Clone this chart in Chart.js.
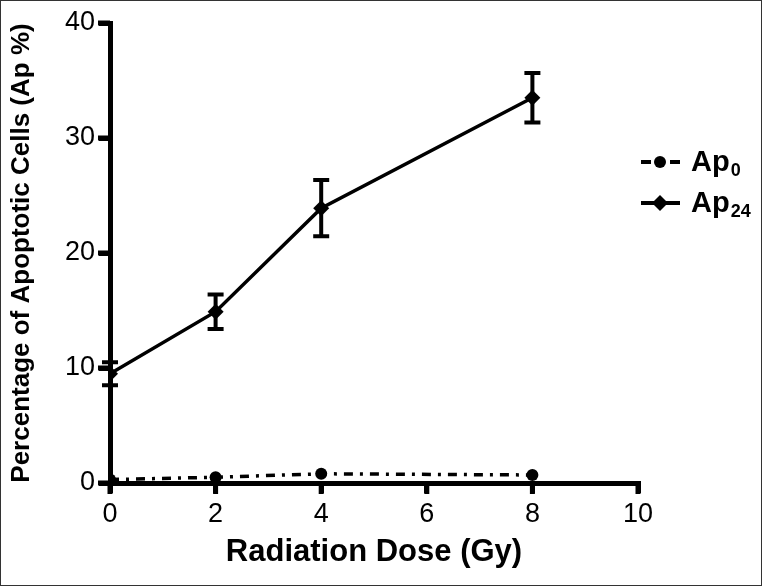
<!DOCTYPE html>
<html>
<head>
<meta charset="utf-8">
<title>Apoptosis vs radiation dose</title>
<script src="https://cdn.jsdelivr.net/npm/chart.js@4.4.1/dist/chart.umd.min.js"></script>
<style>
  html, body { margin: 0; padding: 0; background: #fff; }
  canvas { display: block; }
</style>
</head>
<body>
<canvas id="apChart" width="762" height="586"></canvas>
<script>
// Data
const doses = [0, 2, 4, 8];
const ap0 = [0.3, 0.5, 0.8, 0.7];
const ap24 = [9.5, 14.9, 23.9, 33.5];
const ap24Err = [1.0, 1.5, 2.45, 2.15];
const xTicks = [0, 2, 4, 6, 8, 10];
const yTicks = [0, 10, 20, 30, 40];
const seriesNames = [['Ap', '0'], ['Ap', '24']];

const FONT = '"Liberation Sans", Arial, Helvetica, sans-serif';

// thick outward tick marks (the built-in ones render too thin)
const thickTicks = {
    id: 'thickTicks',
    beforeDatasetsDraw(chart) {
        const ctx = chart.ctx;
        const xs = chart.scales.x, ys = chart.scales.y;
        const area = chart.chartArea;
        ctx.save();
        ctx.strokeStyle = '#000';
        ctx.lineWidth = 5;
        ctx.beginPath();
        xTicks.forEach(v => {
            const px = xs.getPixelForValue(v);
            ctx.moveTo(px, area.bottom); ctx.lineTo(px, area.bottom + 11);
        });
        yTicks.forEach(v => {
            const py = ys.getPixelForValue(v);
            ctx.moveTo(area.left, py); ctx.lineTo(area.left - 12, py);
        });
        ctx.stroke();
        ctx.restore();
    }
};

// error bars drawn through the scales
const errorBars = {
    id: 'errorBars',
    afterDatasetsDraw(chart) {
        const ctx = chart.ctx;
        const xs = chart.scales.x, ys = chart.scales.y;
        ctx.save();
        ctx.strokeStyle = '#000';
        ctx.lineWidth = 4;
        doses.forEach((d, i) => {
            const px = xs.getPixelForValue(d);
            const top = ys.getPixelForValue(ap24[i] + ap24Err[i]);
            const bot = ys.getPixelForValue(ap24[i] - ap24Err[i]);
            ctx.beginPath();
            ctx.moveTo(px, top); ctx.lineTo(px, bot);
            ctx.moveTo(px - 8, top); ctx.lineTo(px + 8, top);
            ctx.moveTo(px - 8, bot); ctx.lineTo(px + 8, bot);
            ctx.stroke();
        });
        ctx.restore();
    }
};

// legend with subscripts, plus the frame round the picture
const sideLegend = {
    id: 'sideLegend',
    afterDraw(chart) {
        const ctx = chart.ctx;
        ctx.save();
        const rows = [162, 203];
        rows.forEach((y, i) => {
            const ds = chart.data.datasets[i];
            ctx.strokeStyle = '#000';
            ctx.lineWidth = 4;
            ctx.setLineDash(i === 0 ? [10, 19] : []);
            ctx.beginPath();
            ctx.moveTo(641, y); ctx.lineTo(680, y);
            ctx.stroke();
            ctx.setLineDash([]);
            ctx.fillStyle = '#000';
            ctx.beginPath();
            if (ds.pointStyle === 'rectRot') {
                ctx.moveTo(660, y - 8); ctx.lineTo(668, y); ctx.lineTo(660, y + 8); ctx.lineTo(652, y);
                ctx.closePath();
            } else {
                ctx.arc(660, y, 6, 0, Math.PI * 2);
            }
            ctx.fill();
            ctx.textBaseline = 'alphabetic';
            ctx.textAlign = 'left';
            ctx.font = 'bold 29px ' + FONT;
            ctx.fillText(seriesNames[i][0], 691, y + 9);
            const w = ctx.measureText(seriesNames[i][0]).width;
            ctx.font = 'bold 18px ' + FONT;
            ctx.fillText(seriesNames[i][1], 691 + w + 1, y + 14);
        });
        ctx.strokeStyle = '#333';
        ctx.lineWidth = 1;
        ctx.strokeRect(0.5, 0.5, chart.width - 1, chart.height - 1);
        ctx.restore();
    }
};

const ctx = document.getElementById('apChart');
new Chart(ctx, {
    type: 'line',
    data: {
        datasets: [
            {
                label: 'Ap0',
                data: doses.map((d, i) => ({ x: d, y: ap0[i] })),
                borderColor: '#000',
                backgroundColor: '#000',
                borderWidth: 3.5,
                borderDash: [9, 7, 3, 7],
                pointStyle: 'circle',
                pointRadius: 6,
                pointBorderWidth: 0,
                tension: 0
            },
            {
                label: 'Ap24',
                data: doses.map((d, i) => ({ x: d, y: ap24[i] })),
                borderColor: '#000',
                backgroundColor: '#000',
                borderWidth: 3.5,
                pointStyle: 'rectRot',
                pointRadius: 8,
                pointBorderWidth: 0,
                tension: 0
            }
        ]
    },
    options: {
        responsive: false,
        animation: false,
        layout: { padding: { left: 0, right: 124, top: 23, bottom: 0 } },
        plugins: {
            legend: { display: false },
            tooltip: { enabled: false }
        },
        scales: {
            x: {
                type: 'linear',
                min: 0,
                max: 10,
                afterBuildTicks: (scale) => { scale.ticks = xTicks.map(v => ({ value: v })); },
                afterFit: (scale) => { scale.height = 103; },
                border: { display: true, color: '#000', width: 5 },
                grid: { drawOnChartArea: false, drawTicks: true, tickLength: 10, lineWidth: 5, tickWidth: 5, color: '#000' },
                ticks: { color: '#000', padding: 5, maxRotation: 0, font: { family: FONT, size: 27 } },
                title: {
                    display: true,
                    text: 'Radiation Dose (Gy)',
                    color: '#000',
                    font: { family: FONT, size: 31, weight: 'bold' },
                    padding: { top: 0, bottom: 15 }
                }
            },
            y: {
                min: 0,
                max: 40,
                afterBuildTicks: (scale) => { scale.ticks = yTicks.map(v => ({ value: v })); },
                afterFit: (scale) => { scale.width = 110; },
                border: { display: true, color: '#000', width: 5 },
                grid: { drawOnChartArea: false, drawTicks: true, tickLength: 11, lineWidth: 5, tickWidth: 5, color: '#000' },
                ticks: { color: '#000', padding: 4, font: { family: FONT, size: 27 } },
                title: {
                    display: true,
                    text: 'Percentage of Apoptotic Cells (Ap %)',
                    color: '#000',
                    font: { family: FONT, size: 26, weight: 'bold' },
                    padding: { top: 6, bottom: 0 }
                }
            }
        }
    },
    plugins: [thickTicks, errorBars, sideLegend]
});
</script>
</body>
</html>
